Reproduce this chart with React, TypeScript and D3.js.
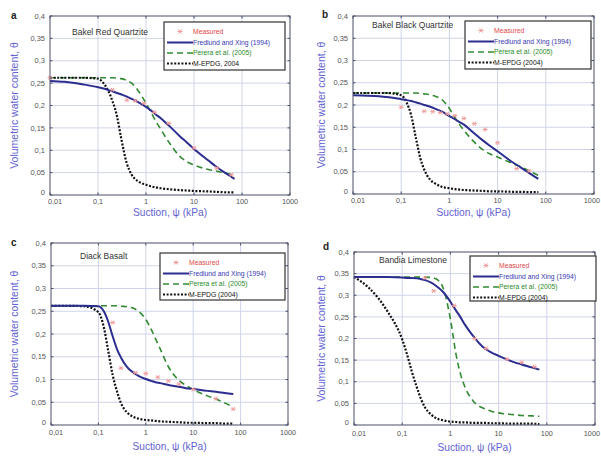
import React from "react";
import * as d3 from "d3";

// ---------- shared ticks ----------
const xTicks = [0.01, 0.1, 1, 10, 100, 1000];
const xTickLabels = ["0,01", "0,1", "1", "10", "100", "1000"];
const yTicks = [0, 0.05, 0.1, 0.15, 0.2, 0.25, 0.3, 0.35, 0.4];
const yTickLabels = ["0", "0,05", "0,1", "0,15", "0,2", "0,25", "0,3", "0,35", "0,4"];

const seriesNames = ["Measured", "Fredlund and Xing (1994)", "Perera et al. (2005)", "M-EPDG (2004)"];
const seriesNamesA = ["Measured", "Fredlund and Xing (1994)", "Perera et al. (2005)", "M-EPDG, 2004"];
const panelLetters = ["a", "b", "c", "d"];
const panelTitles = ["Bakel Red Quartzite", "Bakel Black Quartzite", "Diack Basalt", "Bandia Limestone"];

// suction values (kPa) at which the curves were read
const suction = [0.01, 0.02, 0.05, 0.1, 0.13, 0.16, 0.2, 0.25, 0.3, 0.4, 0.5, 0.7, 1, 1.3, 1.6, 2, 3, 5, 7, 10, 20, 30, 50, 70];

// ---------- panel a ----------
const aFredlund = [0.255, 0.253, 0.247, 0.241, 0.238, 0.235, 0.232, 0.228, 0.225, 0.22, 0.215, 0.207, 0.197, 0.188, 0.18, 0.172, 0.155, 0.132, 0.118, 0.103, 0.077, 0.062, 0.046, 0.036];
const aPerera = [0.262, 0.262, 0.262, 0.262, 0.262, 0.262, 0.262, 0.261, 0.26, 0.256, 0.25, 0.232, 0.205, 0.183, 0.165, 0.148, 0.118, 0.087, 0.075, 0.067, 0.057, 0.053, 0.048, 0.044];
const aMEPDG = [0.262, 0.262, 0.262, 0.26, 0.25, 0.235, 0.21, 0.175, 0.13, 0.07, 0.046, 0.03, 0.023, 0.019, 0.017, 0.015, 0.013, 0.011, 0.01, 0.009, 0.008, 0.007, 0.006, 0.006];
const aMeasuredX = [0.01, 0.2, 0.4, 0.6, 0.9, 1.5, 3, 10, 30, 60];
const aMeasuredY = [0.262, 0.235, 0.212, 0.21, 0.205, 0.185, 0.16, 0.105, 0.06, 0.045];

// ---------- panel b ----------
const bFredlund = [0.222, 0.221, 0.218, 0.213, 0.211, 0.209, 0.206, 0.203, 0.2, 0.196, 0.192, 0.185, 0.175, 0.168, 0.162, 0.156, 0.14, 0.12, 0.108, 0.096, 0.072, 0.06, 0.044, 0.034];
const bPerera = [0.227, 0.227, 0.227, 0.227, 0.227, 0.227, 0.227, 0.226, 0.225, 0.223, 0.22, 0.212, 0.192, 0.172, 0.157, 0.143, 0.121, 0.099, 0.09, 0.083, 0.069, 0.061, 0.05, 0.042];
const bMEPDG = [0.227, 0.227, 0.227, 0.222, 0.205, 0.178, 0.128, 0.08, 0.055, 0.032, 0.024, 0.016, 0.013, 0.011, 0.01, 0.009, 0.008, 0.007, 0.006, 0.006, 0.005, 0.005, 0.004, 0.004];
const bMeasuredX = [0.1, 0.3, 0.45, 0.65, 0.9, 1.3, 2, 3.3, 5.5, 10, 25, 45];
const bMeasuredY = [0.195, 0.186, 0.185, 0.183, 0.18, 0.176, 0.17, 0.158, 0.145, 0.115, 0.057, 0.052];

// ---------- panel c ----------
const cFredlund = [0.262, 0.262, 0.262, 0.261, 0.25, 0.228, 0.195, 0.165, 0.148, 0.128, 0.118, 0.108, 0.101, 0.097, 0.094, 0.092, 0.088, 0.084, 0.081, 0.079, 0.075, 0.073, 0.07, 0.068];
const cPerera = [0.262, 0.262, 0.262, 0.262, 0.262, 0.262, 0.262, 0.262, 0.261, 0.26, 0.258, 0.25, 0.232, 0.21, 0.19, 0.168, 0.128, 0.098, 0.087, 0.078, 0.064, 0.057, 0.047, 0.04];
const cMEPDG = [0.262, 0.262, 0.261, 0.248, 0.215, 0.165, 0.11, 0.072, 0.048, 0.028, 0.02, 0.014, 0.011, 0.01, 0.009, 0.008, 0.007, 0.006, 0.005, 0.005, 0.004, 0.004, 0.003, 0.003];
const cMeasuredX = [0.2, 0.3, 0.6, 1, 1.8, 3, 5, 10, 30, 70];
const cMeasuredY = [0.225, 0.125, 0.115, 0.113, 0.105, 0.097, 0.09, 0.078, 0.058, 0.035];

// ---------- panel d ----------
const dFredlund = [0.342, 0.342, 0.342, 0.341, 0.34, 0.34, 0.339, 0.337, 0.335, 0.329, 0.322, 0.308, 0.285, 0.265, 0.25, 0.232, 0.205, 0.178, 0.168, 0.16, 0.146, 0.14, 0.133, 0.128];
const dPerera = [0.342, 0.342, 0.342, 0.342, 0.342, 0.342, 0.342, 0.342, 0.342, 0.341, 0.338, 0.318, 0.245, 0.165, 0.12, 0.088, 0.055, 0.038, 0.032, 0.028, 0.024, 0.022, 0.021, 0.02];
const dMEPDG = [0.342, 0.318, 0.262, 0.198, 0.158, 0.122, 0.088, 0.058, 0.04, 0.024, 0.016, 0.011, 0.008, 0.007, 0.006, 0.006, 0.005, 0.005, 0.004, 0.004, 0.003, 0.003, 0.003, 0.002];
const dMeasuredX = [0.3, 0.45, 1.2, 3.2, 5.5, 15, 30, 55];
const dMeasuredY = [0.34, 0.31, 0.276, 0.2, 0.177, 0.152, 0.145, 0.135];

const FONT = "'Liberation Sans', Arial, Helvetica, sans-serif";
const C_FRED = "#2b2d8f";
const C_PER = "#338a33";
const C_MEP = "#111111";
const C_MEAS = "#f29a9a";
const C_GRID = "#cfd4ea";
const C_AXIS = "#4a4f6a";
const C_TITLE = "#6262d2";
const legendTextColors = ["#e04848", "#3838b0", "#2a8a2a", "#111"];

type PanelProps = {
  idx: number;
  box: { l: number; r: number; t: number; b: number };
  fred: number[];
  per: number[];
  mep: number[];
  mx: number[];
  my: number[];
  names: string[];
  legend: { x: number; y: number; w: number; h: number };
  titlePos: { x: number; y: number };
  xLabDy: number;
  xTitleDy: number;
  letterPos: { x: number; y: number };
  yTitleX: number;
};

function Asterisk({ x, y }: { x: number; y: number }) {
  const s = 2.5;
  return (
    <g stroke={C_MEAS} strokeWidth={1}>
      <line x1={x - s} y1={y} x2={x + s} y2={y} />
      <line x1={x - s * 0.6} y1={y - s * 0.8} x2={x + s * 0.6} y2={y + s * 0.8} />
      <line x1={x - s * 0.6} y1={y + s * 0.8} x2={x + s * 0.6} y2={y - s * 0.8} />
    </g>
  );
}

function Panel(p: PanelProps) {
  const { box } = p;
  const x = d3.scaleLog().domain([0.01, 1000]).range([box.l, box.r]);
  const y = d3.scaleLinear().domain([0, 0.4]).range([box.b, box.t]);
  const line = d3
    .line<[number, number]>()
    .x((d) => x(d[0]))
    .y((d) => y(d[1]))
    .curve(d3.curveMonotoneX);
  const pts = (vals: number[]) => suction.map((s, i) => [s, vals[i]] as [number, number]);
  const lg = p.legend;
  const rows = [9.5, 20.5, 31, 41.5];
  const nearEdge = box.r > 585;
  return (
    <g>
      {/* grid */}
      {xTicks.slice(1, -1).map((t) => (
        <line key={"gx" + t} x1={x(t)} x2={x(t)} y1={box.t} y2={box.b} stroke={C_GRID} strokeWidth={1} />
      ))}
      {yTicks.slice(1, -1).map((t) => (
        <line key={"gy" + t} x1={box.l} x2={box.r} y1={y(t)} y2={y(t)} stroke={C_GRID} strokeWidth={1} />
      ))}
      {/* curves */}
      <path d={line(pts(p.per)) || ""} fill="none" stroke={C_PER} strokeWidth={1.6} strokeDasharray="6,4" />
      <path d={line(pts(p.mep)) || ""} fill="none" stroke={C_MEP} strokeWidth={2.2} strokeDasharray="2,1.6" />
      <path d={line(pts(p.fred)) || ""} fill="none" stroke={C_FRED} strokeWidth={2} />
      {p.mx.map((v, i) => (
        <Asterisk key={"m" + i} x={x(v)} y={y(p.my[i])} />
      ))}
      {/* frame */}
      <rect x={box.l} y={box.t} width={box.r - box.l} height={box.b - box.t} fill="none" stroke={C_AXIS} strokeWidth={1} />
      {/* ticks */}
      {xTicks.map((t, i) => {
        const last = i === xTicks.length - 1;
        const anchor = last && nearEdge ? "end" : "middle";
        const tx = last && nearEdge ? 600 : x(t) + (i === 0 ? 5 : 0);
        return (
          <g key={"xt" + t}>
            <line x1={x(t)} x2={x(t)} y1={box.b} y2={box.b - 2.5} stroke={C_AXIS} />
            <line x1={x(t)} x2={x(t)} y1={box.t} y2={box.t + 2.5} stroke={C_AXIS} />
            <text x={tx} y={box.b + p.xLabDy} fontSize={7.3} fill="#555" textAnchor={anchor} fontFamily={FONT}>
              {xTickLabels[i]}
            </text>
          </g>
        );
      })}
      {yTicks.map((t, i) => (
        <g key={"yt" + t}>
          <line x1={box.l} x2={box.l + 2.5} y1={y(t)} y2={y(t)} stroke={C_AXIS} />
          <line x1={box.r} x2={box.r - 2.5} y1={y(t)} y2={y(t)} stroke={C_AXIS} />
          <text
            x={box.l - 5}
            y={y(t) + 2.7 - (i === 0 ? 3 : 0)}
            fontSize={7.5}
            fill="#555"
            textAnchor="end"
            fontFamily={FONT}
          >
            {yTickLabels[i]}
          </text>
        </g>
      ))}
      {/* titles */}
      <text
        x={(box.l + box.r) / 2}
        y={box.b + p.xTitleDy}
        fontSize={10.2}
        fill={C_TITLE}
        textAnchor="middle"
        fontFamily={FONT}
      >
        Suction, ψ (kPa)
      </text>
      <text
        transform={`translate(${p.yTitleX},${(box.t + box.b) / 2}) rotate(-90)`}
        fontSize={10.5}
        fill={C_TITLE}
        textAnchor="middle"
        fontFamily={FONT}
      >
        Volumetric water content, θ
      </text>
      <text x={p.letterPos.x} y={p.letterPos.y} fontSize={10} fontWeight="bold" fill="#222" fontFamily={FONT}>
        {panelLetters[p.idx]}
      </text>
      <text x={p.titlePos.x} y={p.titlePos.y} fontSize={8.5} fill="#333" fontFamily={FONT}>
        {panelTitles[p.idx]}
      </text>
      {/* legend */}
      <rect x={lg.x} y={lg.y} width={lg.w} height={lg.h} fill="#fff" stroke="#333" strokeWidth={1.2} />
      <Asterisk x={lg.x + 16} y={lg.y + rows[0]} />
      <line x1={lg.x + 3} x2={lg.x + 29} y1={lg.y + rows[1]} y2={lg.y + rows[1]} stroke={C_FRED} strokeWidth={2} />
      <line
        x1={lg.x + 3}
        x2={lg.x + 29}
        y1={lg.y + rows[2]}
        y2={lg.y + rows[2]}
        stroke={C_PER}
        strokeWidth={1.6}
        strokeDasharray="6,4"
      />
      <line
        x1={lg.x + 3}
        x2={lg.x + 29}
        y1={lg.y + rows[3]}
        y2={lg.y + rows[3]}
        stroke={C_MEP}
        strokeWidth={2}
        strokeDasharray="2,1.6"
      />
      {legendTextColors.map((c, i) => (
        <text key={"lt" + i} x={lg.x + 29} y={lg.y + rows[i] + 2.3} fontSize={6.8} fill={c} fontFamily={FONT}>
          {p.names[i]}
        </text>
      ))}
    </g>
  );
}

export default function App() {
  return (
    <svg
      width={601}
      height={458}
      style={{ position: "absolute", left: 0, top: 0, background: "#fff" }}
      xmlns="http://www.w3.org/2000/svg"
    >
      <rect x={0} y={0} width={601} height={458} fill="#fff" />
      <Panel
        idx={0}
        box={{ l: 50, r: 290, t: 16, b: 195 }}
        fred={aFredlund}
        per={aPerera}
        mep={aMEPDG}
        mx={aMeasuredX}
        my={aMeasuredY}
        names={seriesNamesA}
        legend={{ x: 164, y: 22, w: 121, h: 48 }}
        titlePos={{ x: 72, y: 35 }}
        xLabDy={8.5}
        xTitleDy={20.5}
        letterPos={{ x: 11, y: 19 }}
        yTitleX={18}
      />
      <Panel
        idx={1}
        box={{ l: 353, r: 594, t: 16, b: 194 }}
        fred={bFredlund}
        per={bPerera}
        mep={bMEPDG}
        mx={bMeasuredX}
        my={bMeasuredY}
        names={seriesNames}
        legend={{ x: 465, y: 21, w: 126, h: 48 }}
        titlePos={{ x: 372, y: 28 }}
        xLabDy={9}
        xTitleDy={21.5}
        letterPos={{ x: 322, y: 18 }}
        yTitleX={325}
      />
      <Panel
        idx={2}
        box={{ l: 51, r: 288, t: 243, b: 425 }}
        fred={cFredlund}
        per={cPerera}
        mep={cMEPDG}
        mx={cMeasuredX}
        my={cMeasuredY}
        names={seriesNames}
        legend={{ x: 160, y: 253, w: 125, h: 47 }}
        titlePos={{ x: 80, y: 259 }}
        xLabDy={9.5}
        xTitleDy={25}
        letterPos={{ x: 11, y: 246 }}
        yTitleX={18}
      />
      <Panel
        idx={3}
        box={{ l: 354, r: 595, t: 252, b: 425 }}
        fred={dFredlund}
        per={dPerera}
        mep={dMEPDG}
        mx={dMeasuredX}
        my={dMeasuredY}
        names={seriesNames}
        legend={{ x: 470, y: 256, w: 126, h: 45 }}
        titlePos={{ x: 379, y: 263 }}
        xLabDy={10.5}
        xTitleDy={26}
        letterPos={{ x: 323, y: 250 }}
        yTitleX={325}
      />
    </svg>
  );
}
